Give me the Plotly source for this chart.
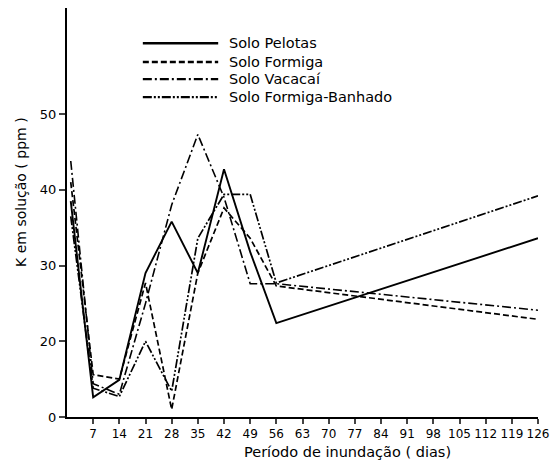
import plotly.graph_objects as go

days = [1, 7, 14, 21, 28, 35, 42, 49, 56, 126]
pelotas = [38.5, 12.6, 14.9, 29.0, 35.8, 29.0, 42.7, 31.8, 22.4, 33.6]
formiga = [41.0, 15.6, 15.0, 27.7, 11.0, 29.0, 37.6, 33.6, 27.3, 22.9]
vacacai = [43.8, 14.4, 13.0, 25.0, 38.0, 47.3, 39.0, 27.6, 27.6, 24.1]
banhado = [36.5, 13.8, 12.7, 20.0, 13.4, 33.6, 39.4, 39.4, 27.7, 39.2]

names = ["Solo Pelotas", "Solo Formiga", "Solo Vacacaí", "Solo Formiga-Banhado"]
series = [pelotas, formiga, vacacai, banhado]
dashes = ["solid", "6px,3px", "9px,3px,2px,3px", "9px,2px,2px,2px,2px,2px"]
widths = [1.9, 1.7, 1.6, 1.7]

xticks = list(range(7, 127, 7))
yticks = [10, 20, 30, 40, 50]
yticktext = ["0", "20", "30", "40", "50"]

font = "DejaVu Sans"
fig = go.Figure()
for n, s, d, w in zip(names, series, dashes, widths):
    fig.add_trace(go.Scatter(x=days, y=s, mode="lines", name=n,
                             line=dict(color="black", width=w, dash=d),
                             showlegend=False))

# manual legend
leg_y = [0.914, 0.868, 0.826, 0.782]
for n, d, w, yy in zip(names, dashes, widths, leg_y):
    fig.add_shape(type="line", xref="paper", yref="paper",
                  x0=0.161, x1=0.321, y0=yy, y1=yy,
                  line=dict(color="black", width=w + 0.6, dash=d))
    fig.add_annotation(xref="paper", yref="paper", x=0.340, y=yy, text=n,
                       showarrow=False, xanchor="left", yanchor="middle",
                       font=dict(family=font, size=14.5, color="black"))

fig.add_annotation(xref="paper", yref="paper", x=-0.098, y=0.55,
                   text="K em solução ( ppm )", textangle=-90, showarrow=False,
                   xanchor="center", yanchor="middle",
                   font=dict(family=font, size=14, color="black"))
fig.add_annotation(xref="paper", yref="paper", x=0.595, y=-0.085,
                   text="Período de inundação ( dias)", showarrow=False,
                   xanchor="center", yanchor="middle",
                   font=dict(family=font, size=14.5, color="black"))

fig.update_layout(
    width=557, height=468,
    margin=dict(l=67, r=19, t=8, b=51),
    paper_bgcolor="white", plot_bgcolor="white",
    showlegend=False,
    font=dict(family=font, size=12, color="black"),
)
fig.update_xaxes(range=[0, 126], tickvals=xticks, ticks="outside", ticklen=5,
                 tickwidth=1.5, showline=True, linecolor="black", linewidth=2,
                 showgrid=False, zeroline=False,
                 tickfont=dict(family=font, size=12, color="black"))
fig.update_yaxes(range=[10, 64], tickvals=yticks, ticktext=yticktext,
                 ticks="outside", ticklen=6, tickwidth=1.5, showline=True,
                 linecolor="black", linewidth=2, showgrid=False, zeroline=False,
                 tickfont=dict(family=font, size=13, color="black"))

fig.write_html("out.html")
